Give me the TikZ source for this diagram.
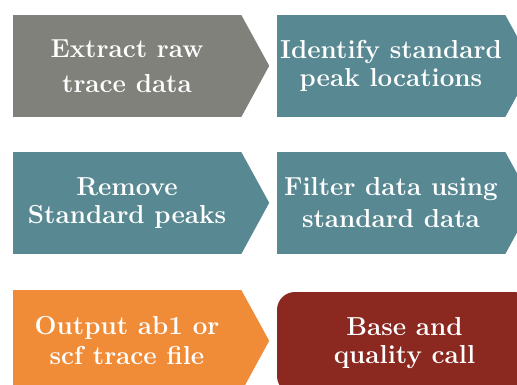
\documentclass[tikz,border=0pt]{standalone}
\usetikzlibrary{positioning}
\definecolor{cGray}{RGB}{127,129,122}
\definecolor{cTeal}{RGB}{88,137,147}
\definecolor{cOrange}{RGB}{240,140,56}
\definecolor{cRed}{RGB}{139,40,32}
\tikzstyle{sB}=[rectangle,minimum width = 228pt,minimum height = 102pt,inner sep = 0pt,text=white, font=\fontsize{26}{28}\selectfont\bfseries,align=center]
\tikzstyle{sR}=[sB,rounded corners=18pt,minimum width = 255pt]

\begin{document}
\begin{tikzpicture}[x=1pt,y=-1pt]
                \useasboundingbox (0,0) rectangle (517,385);
                \clip (0,0) rectangle (517,385);
                \fill[white] (0,0) rectangle (517,385);
                \draw (127,66) node[sB,fill=cGray] (n0) {Extract raw\\[7pt]trace data};
                \draw (391,66) node[sB,fill=cTeal] (n1) {Identify standard\\peak locations};
                \draw (127,203) node[sB,fill=cTeal] (n2) {Remove\\Standard peaks};
                \draw (391,203) node[sB,fill=cTeal] (n3) {Filter data using\\[4pt]standard data};
                \draw (127,341) node[sB,fill=cOrange] (n4) {Output ab1 or\\[2pt]scf trace file};
                \draw (404.5,343) node[sR,fill=cRed] (n5) {Base and\\quality call};
                % arrow tips
                \fill[cGray] (n0.north east) -- ++(28,51) -- (n0.south east) -- cycle;
                \fill[cTeal] (n1.north east) -- ++(28,51) -- (n1.south east) -- cycle;
                \fill[cTeal] (n2.north east) -- ++(28,51) -- (n2.south east) -- cycle;
                \fill[cTeal] (n3.north east) -- ++(28,51) -- (n3.south east) -- cycle;
                \fill[cOrange] (n4.north east) -- ++(28,51) -- (n4.south east) -- cycle;
        \end{tikzpicture}
\end{document}
